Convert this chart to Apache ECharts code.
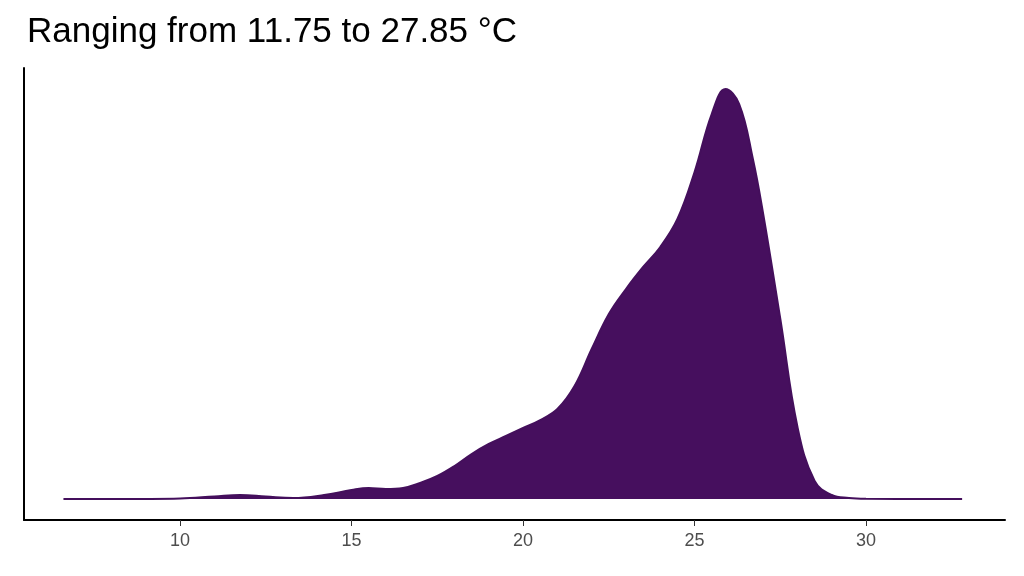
<!DOCTYPE html>
<html><head><meta charset="utf-8">
<script src="https://cdn.jsdelivr.net/npm/echarts@6/dist/echarts.min.js"></script>
<style>html,body{margin:0;padding:0;background:#fff}#c{width:1024px;height:576px}</style>
</head><body><div id="c"></div>
<script>
const temps = [6.6, 9, 10, 11, 11.75, 12.5, 13.3, 14.2, 15, 15.5, 16, 16.5, 17, 17.5, 18, 18.5, 19, 19.5, 20, 20.5, 21, 21.5, 22, 22.5, 23, 23.5, 24, 24.5, 25, 25.5, 25.9, 26.3, 26.7, 27, 27.5, 28, 28.5, 29, 29.5, 30, 32.8];
const density = [0, 0.1, 0.5, 2.5, 4, 2.5, 1, 4, 9, 11, 10, 11, 16, 23, 33, 45, 55, 63, 71, 79, 90, 113, 150, 185, 210, 232, 252, 280, 327, 385, 410, 395, 340, 285, 180, 72, 18, 4, 1, 0.2, 0];
const xTicks = [10, 15, 20, 25, 30];
const chart = echarts.init(document.getElementById('c'));
chart.setOption({
  animation: false,
  title: { text: 'Ranging from 11.75 to 27.85 °C', left: 22, top: 10,
    textStyle: { fontFamily: 'Liberation Sans', fontWeight: 'normal', fontSize: 35, color: '#000' } },
  grid: { left: 24, right: 19, top: 68, bottom: 56, containLabel: false },
  xAxis: { type: 'value', min: 5.45, max: 34.05,
    axisLine: { onZero: false, lineStyle: { color: '#000', width: 2 } },
    axisTick: { show: true, length: 6, lineStyle: { color: '#333' }, customValues: xTicks },
    axisLabel: { color: '#4d4d4d', fontSize: 18, fontFamily: 'Liberation Sans', margin: 12, customValues: xTicks },
    splitLine: { show: false } },
  yAxis: { type: 'value', min: -21, max: 431,
    axisLine: { show: true, onZero: false, lineStyle: { color: '#000', width: 2 } },
    axisTick: { show: false }, axisLabel: { show: false }, splitLine: { show: false } },
  series: [{ type: 'line', data: temps.map((t, i) => [t, density[i]]), smooth: 0.4, symbol: 'none',
    lineStyle: { color: '#440F5C', width: 2 },
    areaStyle: { color: '#460F5E', opacity: 1, origin: 0 } }]
});
</script></body></html>
